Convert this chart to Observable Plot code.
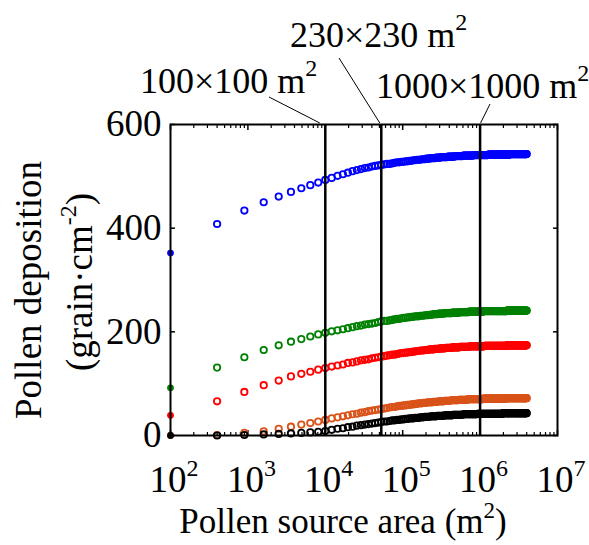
<!DOCTYPE html>
<html>
<head>
<meta charset="utf-8">
<script src="https://cdn.jsdelivr.net/npm/d3@7"></script>
<script src="https://cdn.jsdelivr.net/npm/@observablehq/plot@0.6"></script>
<style>
  body { margin: 0; background: #fff; }
  svg { font-family: "Liberation Serif", "Times New Roman", serif; }
</style>
</head>
<body>
<div id="chart"></div>
<script>
// Side length of the square pollen source (m); area = side²
const sideLengths = [
  10,20,30,40,50,60,70,80,90,100,
  110,120,130,140,150,160,170,180,190,200,
  210,220,230,240,250,260,270,280,290,300,
  310,320,330,340,350,360,370,380,390,400,
  410,420,430,440,450,460,470,480,490,500,
  510,520,530,540,550,560,570,580,590,600,
  610,620,630,640,650,660,670,680,690,700,
  710,720,730,740,750,760,770,780,790,800,
  810,820,830,840,850,860,870,880,890,900,
  910,920,930,940,950,960,970,980,990,1000,
  1010,1020,1030,1040,1050,1060,1070,1080,1090,1100,
  1110,1120,1130,1140,1150,1160,1170,1180,1190,1200,
  1210,1220,1230,1240,1250,1260,1270,1280,1290,1300,
  1310,1320,1330,1340,1350,1360,1370,1380,1390,1400,
  1410,1420,1430,1440,1450,1460,1470,1480,1490,1500,
  1510,1520,1530,1540,1550,1560,1570,1580,1590,1600,
  1610,1620,1630,1640,1650,1660,1670,1680,1690,1700,
  1710,1720,1730,1740,1750,1760,1770,1780,1790,1800,
  1810,1820,1830,1840,1850,1860,1870,1880,1890,1900,
  1910,1920,1930,1940,1950,1960,1970,1980,1990,2000
];

const depositionBlue = [
  352,408,434,450,461,470,477,483,488,493,
  497,501,504,507,510,512,514,516,517,519,
  520,521,522,523,524,524,525,526,527,527,
  528,528,529,529,530,530,531,531,532,532,
  532,533,533,533,534,534,534,535,535,535,
  535,536,536,536,536,537,537,537,537,537,
  537,538,538,538,538,538,538,538,539,539,
  539,539,539,539,539,539,539,540,540,540,
  540,540,540,540,540,540,540,540,540,540,
  541,541,541,541,541,541,541,541,541,541,
  541,541,541,541,541,541,541,541,541,541,
  541,541,542,542,542,542,542,542,542,542,
  542,542,542,542,542,542,542,542,542,542,
  542,542,542,542,542,542,542,542,542,542,
  542,542,542,542,542,542,542,542,542,542,
  542,542,542,542,542,543,543,543,543,543,
  543,543,543,543,543,543,543,543,543,543,
  543,543,543,543,543,543,543,543,543,543,
  543,543,543,543,543,543,543,543,543,543,
  543,543,543,543,543,543,543,543,543,543
];

const depositionGreen = [
  92,131,151,165,174,181,186,191,195,198,
  201,203,205,207,209,211,212,214,215,216,
  217,219,220,221,221,222,223,224,225,225,
  226,227,227,228,228,229,229,230,230,230,
  231,231,231,232,232,232,233,233,233,234,
  234,234,234,235,235,235,235,235,236,236,
  236,236,236,236,236,237,237,237,237,237,
  237,237,237,238,238,238,238,238,238,238,
  238,238,238,238,239,239,239,239,239,239,
  239,239,239,239,239,239,239,239,239,239,
  239,239,239,239,239,240,240,240,240,240,
  240,240,240,240,240,240,240,240,240,240,
  240,240,240,240,240,240,240,240,240,240,
  240,240,240,240,240,240,240,240,240,240,
  240,240,240,240,240,240,240,240,241,241,
  241,241,241,241,241,241,241,241,241,241,
  241,241,241,241,241,241,241,241,241,241,
  241,241,241,241,241,241,241,241,241,241,
  241,241,241,241,241,241,241,241,241,241,
  241,241,241,241,241,241,241,241,241,241
];

const depositionRed = [
  39,66,84,97,106,114,119,123,127,130,
  133,135,137,140,141,143,145,146,147,149,
  150,151,152,153,154,155,156,156,157,158,
  159,159,160,160,161,161,162,162,163,163,
  164,164,164,165,165,165,166,166,166,166,
  167,167,167,167,168,168,168,168,168,169,
  169,169,169,169,169,170,170,170,170,170,
  170,170,170,171,171,171,171,171,171,171,
  171,171,171,171,171,172,172,172,172,172,
  172,172,172,172,172,172,172,172,172,172,
  172,172,172,172,172,172,173,173,173,173,
  173,173,173,173,173,173,173,173,173,173,
  173,173,173,173,173,173,173,173,173,173,
  173,173,173,173,173,173,173,173,173,173,
  173,173,173,173,173,173,173,173,174,174,
  174,174,174,174,174,174,174,174,174,174,
  174,174,174,174,174,174,174,174,174,174,
  174,174,174,174,174,174,174,174,174,174,
  174,174,174,174,174,174,174,174,174,174,
  174,174,174,174,174,174,174,174,174,174
];

const depositionOrange = [
  0,1,5,8,13,17,21,24,27,30,
  33,35,37,39,41,42,44,45,47,48,
  49,50,51,52,53,54,55,55,56,57,
  57,58,58,59,59,60,60,61,61,62,
  62,62,63,63,63,64,64,64,64,65,
  65,65,65,66,66,66,66,66,67,67,
  67,67,67,67,68,68,68,68,68,68,
  68,68,69,69,69,69,69,69,69,69,
  69,69,69,70,70,70,70,70,70,70,
  70,70,70,70,70,70,70,70,70,70,
  70,70,70,70,71,71,71,71,71,71,
  71,71,71,71,71,71,71,71,71,71,
  71,71,71,71,71,71,71,71,71,71,
  71,71,71,71,71,71,71,71,71,71,
  71,71,71,71,71,71,72,72,72,72,
  72,72,72,72,72,72,72,72,72,72,
  72,72,72,72,72,72,72,72,72,72,
  72,72,72,72,72,72,72,72,72,72,
  72,72,72,72,72,72,72,72,72,72,
  72,72,72,72,72,72,72,72,72,72
];

const depositionBlack = [
  0,0,1,2,3,4,5,6,7,8.5,
  11,13,14,16,17,19,20,21,22,23,
  24,25,26,27,27,28,29,29,30,30,
  31,31,32,32,33,33,33,34,34,34,
  35,35,35,36,36,36,36,37,37,37,
  37,37,38,38,38,38,38,38,39,39,
  39,39,39,39,39,39,40,40,40,40,
  40,40,40,40,40,40,40,41,41,41,
  41,41,41,41,41,41,41,41,41,41,
  41,41,41,41,41,42,42,42,42,42,
  42,42,42,42,42,42,42,42,42,42,
  42,42,42,42,42,42,42,42,42,42,
  42,42,42,42,42,42,42,42,42,42,
  42,42,42,42,42,42,42,42,42,42,
  43,43,43,43,43,43,43,43,43,43,
  43,43,43,43,43,43,43,43,43,43,
  43,43,43,43,43,43,43,43,43,43,
  43,43,43,43,43,43,43,43,43,43,
  43,43,43,43,43,43,43,43,43,43,
  43,43,43,43,43,43,43,43,43,43
];

const seriesValues = [depositionBlue, depositionGreen, depositionRed, depositionOrange, depositionBlack];
const seriesColors = ["#0000ff", "#008000", "#ff0000", "#d95319", "#000000"];

// reference source areas (m²) marked by vertical lines and their labels
const markerAreas = [10000, 52900, 1000000];
const markerLabels = ["100×100 m", "230×230 m", "1000×1000 m"];

const xTickValues = [1e2, 1e3, 1e4, 1e5, 1e6, 1e7];
const xTickExponents = ["2", "3", "4", "5", "6", "7"];
const yTickValues = [0, 200, 400, 600];

const rows = [];
seriesValues.forEach((vals, k) => {
  vals.forEach((v, i) => {
    rows.push({ area: sideLengths[i] * sideLengths[i], value: v, color: seriesColors[k], first: i === 0 });
  });
});

const minorTicks = d3.scaleLog().domain([1e2, 1e7]).ticks().filter(t => !xTickValues.includes(t));
const blank = () => "";

const chart = Plot.plot({
  width: 589,
  height: 545,
  marginLeft: 170,
  marginRight: 32,
  marginTop: 124,
  marginBottom: 110,
  x: { type: "log", domain: [1e2, 1e7] },
  y: { domain: [0, 600] },
  color: { type: "identity" },
  style: { fontFamily: "Liberation Serif, serif", fontSize: "37px", color: "#000", background: "#fff", overflow: "visible" },
  marks: [
    Plot.axisX(minorTicks, { anchor: "bottom", tickSize: -3, tickFormat: blank, label: null, strokeWidth: 1.2 }),
    Plot.axisX(minorTicks, { anchor: "top", tickSize: -3, tickFormat: blank, label: null, strokeWidth: 1.2 }),
    Plot.axisX(xTickValues, { anchor: "bottom", tickSize: -5, tickFormat: blank, label: null, strokeWidth: 1.5 }),
    Plot.axisX(xTickValues, { anchor: "top", tickSize: -5, tickFormat: blank, label: null, strokeWidth: 1.5 }),
    Plot.axisY(yTickValues, { anchor: "left", tickSize: -5, tickFormat: blank, label: null, strokeWidth: 1.5 }),
    Plot.axisY(yTickValues, { anchor: "right", tickSize: -5, tickFormat: blank, label: null, strokeWidth: 1.5 }),
    Plot.axisY(yTickValues, { anchor: "left", tickSize: 0, tickPadding: 9, label: null, fontSize: 37 }),
    Plot.dot(rows.filter(d => !d.first), { x: "area", y: "value", r: 3.2, stroke: "color", strokeWidth: 1.8, fill: "none" }),
    Plot.dot(rows.filter(d => d.first), { x: "area", y: "value", r: 3.4, fill: "color", stroke: "none" }),
    Plot.ruleX(markerAreas, { stroke: "#000", strokeWidth: 2.5 }),
    Plot.frame({ stroke: "#000", strokeWidth: 2 })
  ]
});

document.getElementById("chart").appendChild(chart);

const svg = d3.select(chart);
const X = chart.scale("x");
const Y = chart.scale("y");
const yTop = Y.apply(600);

// x tick labels 10^n
xTickValues.forEach((t, i) => {
  const txt = svg.append("text")
    .attr("x", X.apply(t) + 4)
    .attr("y", 492)
    .attr("text-anchor", "middle")
    .attr("font-size", 37)
    .attr("fill", "#000")
    .text("10");
  txt.append("tspan").attr("dy", -16).attr("font-size", 24).text(xTickExponents[i]);
});

// x axis title
{
  const t = svg.append("text")
    .attr("x", 343).attr("y", 533)
    .attr("text-anchor", "middle")
    .attr("font-size", 35).attr("fill", "#000")
    .text("Pollen source area (m");
  t.append("tspan").attr("dy", -15).attr("font-size", 23).text("2");
  t.append("tspan").attr("dy", 15).attr("font-size", 35).text(")");
}

// y axis title (two lines)
svg.append("text")
  .attr("transform", "translate(41,290) rotate(-90)")
  .attr("text-anchor", "middle")
  .attr("font-size", 37).attr("fill", "#000")
  .text("Pollen deposition");
{
  const t = svg.append("text")
    .attr("transform", "translate(92,282) rotate(-90)")
    .attr("text-anchor", "middle")
    .attr("font-size", 37).attr("fill", "#000")
    .text("(grain·cm");
  t.append("tspan").attr("dy", -16).attr("font-size", 24).text("-2");
  t.append("tspan").attr("dy", 16).attr("font-size", 37).text(")");
}

// annotations with leader lines
const annotLayout = [
  { tx: 140, ty: 93, bx: -5, lx: 269, ly: 97 },
  { tx: 290, ty: 47, bx: -1, lx: 339, ly: 58 },
  { tx: 376, ty: 98, bx: 1, lx: 490, ly: 104 }
];
markerAreas.forEach((a, i) => {
  const L = annotLayout[i];
  const xv = X.apply(a);
  svg.append("line")
    .attr("x1", xv + L.bx).attr("y1", yTop - 1)
    .attr("x2", L.lx).attr("y2", L.ly)
    .attr("stroke", "#000").attr("stroke-width", 1);
  const t = svg.append("text")
    .attr("x", L.tx).attr("y", L.ty)
    .attr("text-anchor", "start")
    .attr("font-size", 36).attr("fill", "#000")
    .text(markerLabels[i]);
  t.append("tspan").attr("dy", -17).attr("font-size", 24).text("2");
});
</script>
</body>
</html>
